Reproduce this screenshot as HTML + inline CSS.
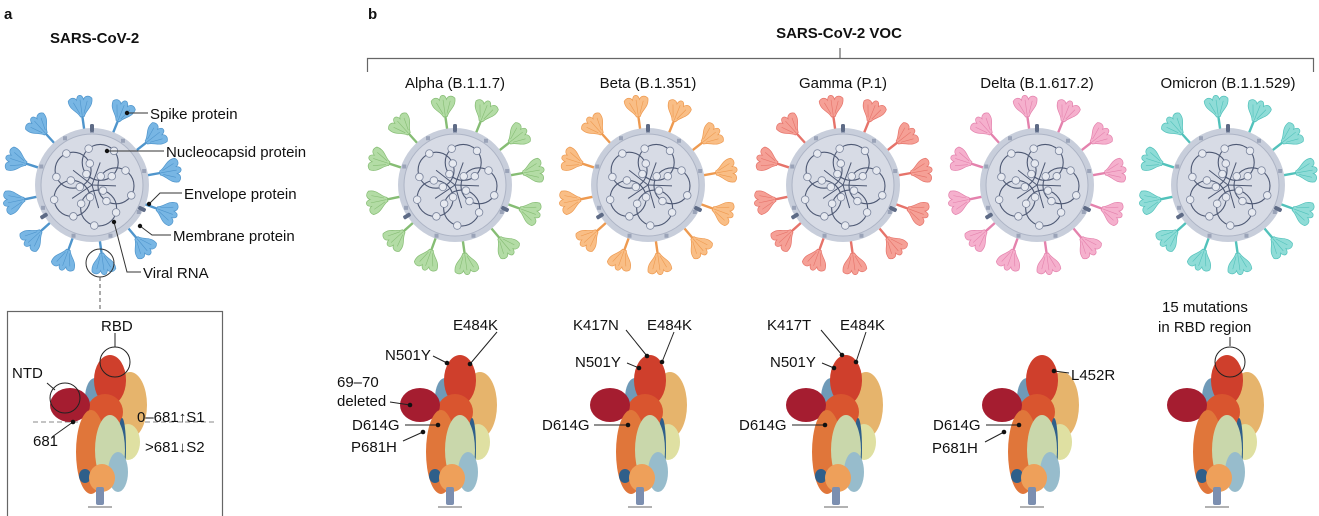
<!DOCTYPE html>
<html><head><meta charset="utf-8">
<style>
html,body{margin:0;padding:0;background:#fff;}
svg{display:block;font-family:"Liberation Sans",Arial,sans-serif;}
.t{font-size:15px;fill:#111;}
.b{font-weight:bold;}
</style></head>
<body>
<svg id="fig" width="1319" height="516" viewBox="0 0 1319 516" xmlns="http://www.w3.org/2000/svg">
  <text x="4" y="19" class="t b" font-size="17">a</text>
  <text x="50" y="43" class="t b">SARS-CoV-2</text>
  <text x="368" y="19" class="t b" font-size="17">b</text>
  <text x="839" y="38" class="t b" text-anchor="middle">SARS-CoV-2 VOC</text>
  <path d="M367.5 72 V58.5 H1313.5 V72 M840 58.5 V48" fill="none" stroke="#666" stroke-width="1.2"/>
  <line x1="33" y1="422" x2="215" y2="422" stroke="#888" stroke-dasharray="5,3"/>
  <g id="viruses"></g>
  <g id="spikes"></g>
  <g stroke="#333" stroke-width="1" fill="none">
    <path d="M127 113 H148"/>
    <path d="M107 151 H164"/>
    <path d="M149 204 L160 193 H182"/>
    <path d="M140 226 L152 235 H171"/>
    <path d="M114 222 L127 272 H141"/>
  </g>
  <g fill="#111">
    <circle cx="127" cy="113" r="2.2"/><circle cx="107" cy="151" r="2.2"/><circle cx="149" cy="204" r="2.2"/><circle cx="140" cy="226" r="2.2"/><circle cx="114" cy="222" r="2.2"/>
  </g>
  <text x="150" y="119" class="t">Spike protein</text>
  <text x="166" y="157" class="t">Nucleocapsid protein</text>
  <text x="184" y="199" class="t">Envelope protein</text>
  <text x="173" y="241" class="t">Membrane protein</text>
  <text x="143" y="278" class="t">Viral RNA</text>
  <circle cx="100" cy="263" r="14" fill="none" stroke="#333" stroke-width="1"/>
  <line x1="100" y1="277" x2="100" y2="311" stroke="#555" stroke-dasharray="4,3"/>
  <rect x="7.5" y="311.5" width="215" height="210" fill="none" stroke="#666" stroke-width="1.2"/>
  <g id="annot"></g>
</svg>
<script>
const NS='http://www.w3.org/2000/svg';
const variantNames=['Alpha (B.1.1.7)','Beta (B.1.351)','Gamma (P.1)','Delta (B.1.617.2)','Omicron (B.1.1.529)'];
const variantColors=['#b3dca5','#f9be86','#f5a096','#f5b0cd','#8fdcd7'];
const variantStroke=['#86bd74','#ee9a50','#e6736a','#e482ad','#52c2bb'];
const virusCX=[455,648,843,1037,1228];
const spikeX=[450,640,836,1032,1217];

function el(tag,attrs,parent){const e=document.createElementNS(NS,tag);for(const k in attrs)e.setAttribute(k,attrs[k]);parent.appendChild(e);return e;}

function virus(cx,cy,fill,stroke,parent,name){
  const g=el('g',{},parent);
  
  
  const angles=[-8,22,52,80,110,140,172,200,228,258,288,318];
  angles.forEach(a=>{
    const s=el('g',{transform:`translate(${cx},${cy}) rotate(${a}) translate(0,-56)`},g);
    el('rect',{x:-1.2,y:-16,width:2.4,height:16,fill:stroke},s);
    el('path',{d:'M-2 -13 C-4 -19 -12 -21 -12 -30 C-9 -34 -5 -33 -3.5 -30 C-2.5 -36 2.5 -36 3.5 -30 C5 -33 9 -34 12 -30 C12 -21 4 -19 2 -13 Z',fill:fill,stroke:stroke,'stroke-width':0.7},s);
    el('path',{d:'M0 -14 V-30 M-2 -16 L-7 -28 M2 -16 L7 -28',fill:'none',stroke:stroke,'stroke-width':0.6},s);
  });
  el('circle',{cx:cx,cy:cy,r:57,fill:'#c8cedb'},g);
  el('circle',{cx:cx,cy:cy,r:51,fill:'#d7dbe5',stroke:'#adb4c5','stroke-width':1},g);
  [0,35,75,120,160,200,245,290,330].forEach(a=>{
    const r=a*Math.PI/180;
    el('rect',{x:cx+54*Math.sin(r)-2,y:cy-54*Math.cos(r)-2,width:4,height:4,fill:'#9aa3b8'},g);
  });
  [[0,-57],[-48,31],[50,24]].forEach(p=>{el('rect',{x:cx+p[0]-2,y:cy+p[1]-4,width:4,height:8,rx:1.5,fill:'#5e6b86',transform:`rotate(${Math.atan2(p[0],-p[1])*180/Math.PI},${cx+p[0]},${cy+p[1]})`},g);});
  [0,72,144,216,288].forEach(a=>{
    const r=(a+20)*Math.PI/180;
    const lx=cx+24*Math.sin(r), ly=cy-24*Math.cos(r);
    el('circle',{cx:lx,cy:ly,r:18,fill:'none',stroke:'#4d5873','stroke-width':1.1},g);
    el('line',{x1:cx,y1:cy,x2:lx,y2:ly,stroke:'#4d5873','stroke-width':1},g);
    for(let k=0;k<4;k++){const b=r+(k*90+30)*Math.PI/180;
      el('circle',{cx:lx+18*Math.sin(b),cy:ly-18*Math.cos(b),r:3.8,fill:'#e6e9f0',stroke:'#7a849c','stroke-width':0.8},g);}
  });
}

function spike(S,parent,name){
  const g=el('g',{},parent);
  
  
  const sh=[
    ['ellipse',{cx:S-5,cy:398,rx:10,ry:20,fill:'#6f9ab8'}],
    ['ellipse',{cx:S+30,cy:405,rx:17,ry:33,fill:'#e6b46c'}],
    ['ellipse',{cx:S+28,cy:442,rx:12,ry:18,fill:'#dfe0a2'}],
    ['ellipse',{cx:S+10,cy:380,rx:16,ry:25,fill:'#cf3f2c'}],
    ['ellipse',{cx:S+5,cy:412,rx:18,ry:18,fill:'#d9552f'}],
    ['ellipse',{cx:S-30,cy:405,rx:20,ry:17,fill:'#a51d30'}],
    ['ellipse',{cx:S-9,cy:452,rx:15,ry:42,fill:'#e0763a'}],
    ['ellipse',{cx:S+22,cy:448,rx:4,ry:30,fill:'#2f5f8a'}],
    ['ellipse',{cx:S+10,cy:450,rx:15,ry:35,fill:'#c9d7ab'}],
    ['ellipse',{cx:S+18,cy:472,rx:10,ry:20,fill:'#97bccc'}],
    ['ellipse',{cx:S-15,cy:476,rx:6,ry:7,fill:'#2f5f8a'}],
    ['ellipse',{cx:S+2,cy:478,rx:13,ry:14,fill:'#eea05a'}],
    ['rect',{x:S-4,y:487,width:8,height:18,rx:2,fill:'#7c8fb0'}],
    ['line',{x1:S-12,y1:507,x2:S+12,y2:507,stroke:'#999','stroke-width':1.5}]
  ];
  sh.forEach(s=>el(s[0],s[1],g));
}

const V=document.getElementById('viruses');
virus(92,185,'#78b6e4','#4f95cc',V,'virus-sars-cov-2');
variantNames.forEach((n,i)=>{
  virus(virusCX[i],185,variantColors[i],variantStroke[i],V,'virus-'+n.split(' ')[0].toLowerCase());
  const t=el('text',{x:virusCX[i],y:88,class:'t','text-anchor':'middle'},V);
  t.textContent=n;
  
  
});
const SP=document.getElementById('spikes');
spike(100,SP,'spike-structure-reference');
variantNames.forEach((n,i)=>spike(spikeX[i],SP,'spike-structure-'+n.split(' ')[0].toLowerCase()));

const labels=[
 ['RBD',101,326,null,null,115,333,115,347],
 ['NTD',12,373,null,null,47,383,55,390],
 ['681',33,441,73,422,52,437,73,422],
 ['E484K',453,325,470,364,497,332,470,364],
 ['N501Y',385,355,447,363,433,356,447,363],
 ['69–70',337,382,null,null,null,null,null,null],
 ['deleted',337,401,410,405,390,402,410,405],
 ['D614G',352,425,438,425,405,425,438,425],
 ['P681H',351,447,423,432,403,441,423,432],
 ['K417N',573,325,647,356,626,330,647,356],
 ['E484K',647,325,662,362,674,332,662,362],
 ['N501Y',575,362,639,368,627,363,639,368],
 ['D614G',542,425,628,425,594,425,628,425],
 ['K417T',767,325,842,355,821,330,842,355],
 ['E484K',840,325,856,362,866,332,856,362],
 ['N501Y',770,362,834,368,822,363,834,368],
 ['D614G',739,425,825,425,792,425,825,425],
 ['D614G',933,425,1019,425,986,425,1019,425],
 ['P681H',932,448,1004,432,985,442,1004,432],
 ['L452R',1071,375,1054,371,1069,373,1054,371],
 ['15 mutations',1162,307,null,null,null,null,null,null],
 ['in RBD region',1158,327,null,null,1230,337,1230,346]
];
const A=document.getElementById('annot');
labels.forEach(l=>{
  const t=el('text',{x:l[1],y:l[2]+5,class:'t'},A);
  t.textContent=l[0];
  
  
  if(l[5]!==null) el('line',{x1:l[5],y1:l[6],x2:l[7],y2:l[8],stroke:'#222','stroke-width':1},A);
  if(l[3]!==null) el('circle',{cx:l[3],cy:l[4],r:2.3,fill:'#111'},A);
});
[[115,362],[65,398],[1230,362]].forEach(c=>el('circle',{cx:c[0],cy:c[1],r:15,fill:'none',stroke:'#222','stroke-width':1},A));
const s1=el('text',{x:137,y:422,class:'t'},A);s1.textContent='0–681↑S1';


const s2=el('text',{x:145,y:452,class:'t'},A);s2.textContent='>681↓S2';


</script>
</body></html>
